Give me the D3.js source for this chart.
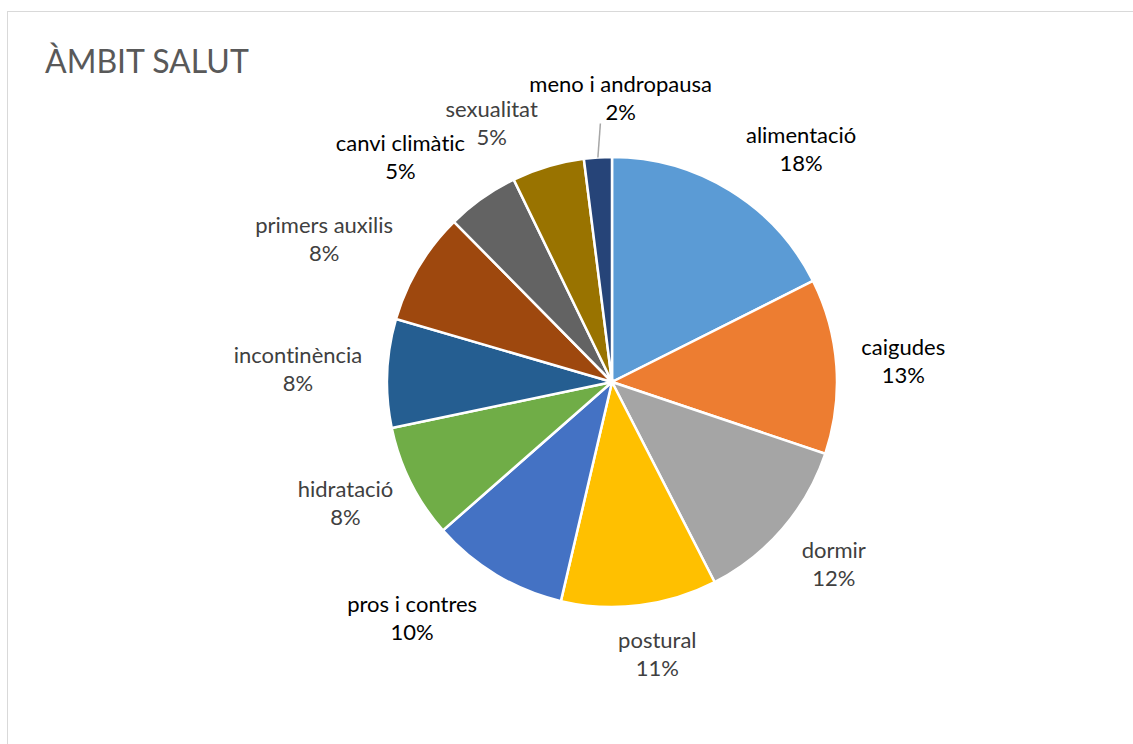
<!DOCTYPE html>
<html>
<head>
<meta charset="utf-8">
<script src="https://cdn.jsdelivr.net/npm/d3@7"></script>
<style>
  body { margin: 0; background: #fff; }
  text { font-family: Lato, "Open Sans", sans-serif; font-variant-ligatures: none; }
</style>
</head>
<body>
<script>
// data (share of each topic, %)
const categories = ["alimentació", "caigudes", "dormir", "postural", "pros i contres",
  "hidratació", "incontinència", "primers auxilis", "canvi climàtic", "sexualitat", "meno i andropausa"];
const values = [17.6, 12.6, 12.3, 11.2, 9.9, 8.2, 7.8, 8.1, 5.2, 5.2, 2.0];

const colors = ["#5B9BD5", "#ED7D31", "#A5A5A5", "#FFC000", "#4472C4", "#70AD47",
  "#255E91", "#9E480E", "#636363", "#997300", "#264478"];

// labels drawn in black, the rest in grey
const darkLabels = new Set(["alimentació", "caigudes", "pros i contres", "canvi climàtic", "meno i andropausa"]);
// Excel nudges some labels away from the plain radial spot
const nudge = {
  "alimentació": [29, 4], "dormir": [8, 4], "postural": [10, 0], "pros i contres": [-38, 1],
  "primers auxilis": [-14, 0], "canvi climàtic": [-30, 2], "sexualitat": [-36, 8],
  "meno i andropausa": [30, -7]
};

const width = 1133, height = 744;
const cx = 612, cy = 382, r = 225;

const svg = d3.select("body").append("svg")
    .attr("width", width)
    .attr("height", height);

svg.append("rect")
    .attr("x", 7.5).attr("y", 11.5)
    .attr("width", width).attr("height", height)
    .attr("fill", "none")
    .attr("stroke", "#d9d9d9");

svg.append("text")
    .attr("x", 45).attr("y", 73)
    .attr("font-size", 32)
    .attr("fill", "#595959")
    .text("ÀMBIT SALUT");

const data = categories.map((c, i) => ({ name: c, value: values[i] }));
const total = d3.sum(values);
const pct = d3.format(".0%");

const pie = d3.pie().sort(null).value(d => d.value);
const arc = d3.arc().innerRadius(0).outerRadius(r);
const arcs = pie(data);

const g = svg.append("g").attr("transform", `translate(${cx},${cy})`);

g.selectAll("path.slice")
    .data(arcs)
    .enter().append("path")
    .attr("class", "slice")
    .attr("d", arc)
    .attr("fill", (d, i) => colors[i])
    .attr("stroke", "#fff")
    .attr("stroke-width", 2.5);

// labels: two lines, box placed just outside the rim along the mid angle
const ra = 250, lineH = 28, hh = 26;
const labels = g.selectAll("g.label")
    .data(arcs)
    .enter().append("g")
    .attr("class", "label");

labels.each(function(d) {
  const lg = d3.select(this);
  const col = darkLabels.has(d.data.name) ? "#000" : "#404040";
  const t1 = lg.append("text").attr("text-anchor", "middle").attr("font-size", 22)
      .attr("fill", col).attr("y", -4).text(d.data.name);
  const t2 = lg.append("text").attr("text-anchor", "middle").attr("font-size", 22)
      .attr("fill", col).attr("y", lineH - 4).text(pct(d.data.value / total));
  const hw = Math.max(t1.node().getComputedTextLength(), t2.node().getComputedTextLength()) / 2;
  const a = (d.startAngle + d.endAngle) / 2;
  const s = Math.sin(a), c = -Math.cos(a);
  const n = nudge[d.data.name] || [0, 0];
  const x = s * (ra + hw) + n[0];
  const y = c * (ra + hh) + n[1];
  lg.attr("transform", `translate(${x},${y - lineH / 2 + 10})`);
  d.labelPos = [x, y];
  d.pctWidth = t2.node().getComputedTextLength();
});

// leader line for the thin slice
const thin = arcs[arcs.length - 1];
const ma = (thin.startAngle + thin.endAngle) / 2;
g.append("line")
    .attr("x1", Math.sin(ma) * r).attr("y1", -Math.cos(ma) * r)
    .attr("x2", thin.labelPos[0] - thin.pctWidth / 2 - 5)
    .attr("y2", thin.labelPos[1] + 24)
    .attr("stroke", "#a6a6a6")
    .attr("stroke-width", 1.5);
</script>
</body>
</html>
